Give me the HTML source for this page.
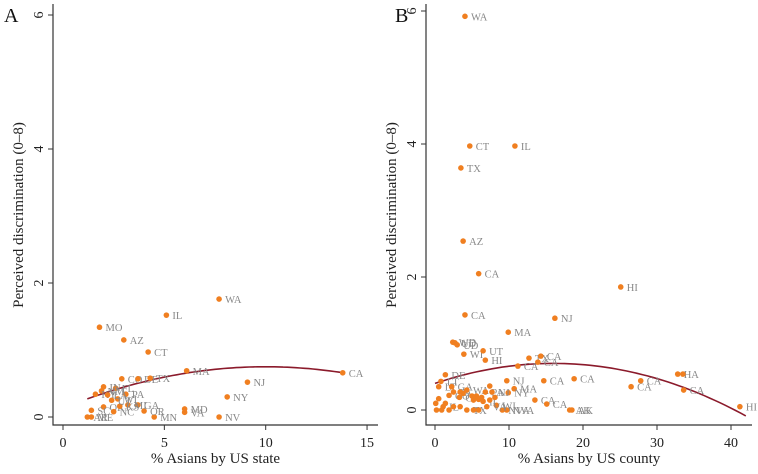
<!DOCTYPE html>
<html><head><meta charset="utf-8"><style>
body{margin:0;background:#fff;}
svg text{font-family:"Liberation Serif",serif;}
</style></head><body>
<svg id="chart" width="758" height="469" viewBox="0 0 758 469"></svg>
<script>
// Panel A data
const stateLabels=["WA","IL","MO","AZ","CT","MA","CA","NJ","NY","CO","DE","TX","PA","MD","VA","NV","MN","OR","GA","MI","OK","SC","NC","WI","AR","ME","FL","IN","NM","KY","LA","KS","UT"];
const stateX=[7.7,5.1,1.8,3.0,4.2,6.1,13.8,9.1,8.1,2.9,3.7,4.3,3.1,6.0,6.0,7.7,4.5,4.0,3.7,3.2,2.0,1.4,2.5,2.7,1.2,1.4,2.6,2.0,1.9,1.6,2.2,2.8,2.4];
const stateY=[1.76,1.52,1.34,1.15,0.97,0.69,0.66,0.52,0.30,0.57,0.57,0.58,0.34,0.12,0.07,0.0,0.0,0.09,0.18,0.18,0.15,0.10,0.08,0.27,0.0,0.0,0.43,0.45,0.39,0.34,0.33,0.16,0.25];
const fitA=[0.13,0.124,-0.0062]; const fitARange=[1.2,13.8];
// Panel B data
const countyLabels=["WA","CT","IL","TX","AZ","CA","HI","CA","NJ","MA","WD","UD","UD","WI","UT","HI","TX","CA","CA","CA","NJ","CA","CA","MA","NY","CA","CA","AK","AK","NVA","NVA","CA","CA","HA","CA","HI",
"DE","LT","LT","IL","","CO","GA","PA","","CA","","WA","","","","","","IL","PA","","NJ","","WI","","TX","","","","","","VA","","","","",""];
const countyX=[4.05,4.7,10.8,3.5,3.8,5.9,25.1,4.05,16.2,9.9,2.4,2.7,3.0,3.9,6.5,6.8,12.7,14.3,13.9,11.2,9.7,14.7,18.8,10.7,9.9,13.5,15.1,18.2,18.5,9.1,9.7,26.5,27.8,32.8,33.6,41.2,
1.4,0.8,0.5,1.1,1.4,1.9,2.25,2.5,3.4,3.3,3.8,4.3,5.0,5.2,5.6,5.9,6.3,6.5,6.8,7.4,7.7,8.1,8.3,3.4,4.3,5.2,5.9,2.5,1.9,7.4,7.0,0.1,0.2,0.5,0.9,33.5];
const countyY=[5.92,3.97,3.97,3.64,2.54,2.05,1.85,1.43,1.38,1.17,1.02,1.01,0.98,0.84,0.89,0.75,0.78,0.81,0.72,0.66,0.44,0.44,0.47,0.32,0.26,0.15,0.09,0.0,0.0,0.0,0.0,0.35,0.44,0.54,0.30,0.05,
0.53,0.43,0.35,0.05,0.10,0.22,0.35,0.27,0.27,0.19,0.25,0.30,0.21,0.15,0.21,0.16,0.19,0.13,0.27,0.36,0.27,0.19,0.07,0.05,0.0,0.0,0.0,0.05,0.0,0.15,0.05,0.10,0.0,0.17,0.0,0.54];
const fitB=[0.4,0.0375,-0.00117]; const fitBRange=[0,42];
const ticksAX=[0,5,10,15], ticksBX=[0,10,20,30,40], ticksY=[0,2,4,6];

const svg=document.getElementById('chart');
const NS='http://www.w3.org/2000/svg';
function mk(tag,attrs,parent){const e=document.createElementNS(NS,tag);for(const k in attrs)e.setAttribute(k,attrs[k]);(parent||svg).appendChild(e);return e;}

function panel(p){
  const g=mk('g',{});
  
  
  const sx=v=>p.x0+v*p.kx, sy=v=>p.y0-v*p.ky;
  const ax=mk('path',{d:`M${p.axX},4 V${p.axY} H${p.axEnd}`,stroke:'#333',fill:'none','stroke-width':1.2},g);
  
  
  p.xt.forEach(t=>{
    mk('line',{x1:sx(t),x2:sx(t),y1:p.axY,y2:p.axY+5,stroke:'#333'},g);
    const tx=mk('text',{x:sx(t),y:p.axY+22,'font-size':14,'text-anchor':'middle',fill:'#222','font-family':'Liberation Sans, sans-serif'},g);
    tx.textContent=t;
    
    
  });
  ticksY.forEach(t=>{
    mk('line',{x1:p.axX-5,x2:p.axX,y1:sy(t),y2:sy(t),stroke:'#333'},g);
    const tx=mk('text',{x:p.axX-10,y:sy(t),'font-size':14,'text-anchor':'middle',fill:'#222','font-family':'Liberation Sans, sans-serif',transform:`rotate(-90 ${p.axX-10} ${sy(t)})`},g);
    tx.textContent=t;
    
    
  });
  let d='';
  for(let i=0;i<=60;i++){const v=p.fr[0]+(p.fr[1]-p.fr[0])*i/60;const y=p.fit[0]+p.fit[1]*v+p.fit[2]*v*v;d+=(i?'L':'M')+sx(v).toFixed(1)+','+sy(y).toFixed(1);}
  const fl=mk('path',{d,stroke:'#8b1a2b',fill:'none','stroke-width':1.6},g);
  
  
  p.xs.forEach((v,i)=>{
    const c=mk('circle',{cx:sx(v),cy:sy(p.ys[i]),r:2.8,fill:'#f07f20'},g);
    
    
    if(p.labels[i]){
      const t=mk('text',{x:sx(v)+6,y:sy(p.ys[i])+4,'font-size':10.5,fill:'#888'},g);
      t.textContent=p.labels[i];
      
      
    }
  });
  const xt=mk('text',{x:(p.axX+p.axEnd)/2,y:463,'font-size':15,'text-anchor':'middle',fill:'#222'},g);
  xt.textContent=p.xtitle;
  
  
  const yx=p.axX-30, yy=215;
  const yt=mk('text',{x:yx,y:yy,'font-size':15,'text-anchor':'middle',fill:'#222',transform:`rotate(-90 ${yx} ${yy})`},g);
  yt.textContent='Perceived discrimination (0–8)';
  
  
  const pl=mk('text',{x:p.letterX,y:22,'font-size':20,fill:'#111','font-family':'Liberation Sans, sans-serif'},g);
  pl.textContent=p.letter;
  
  
}
panel({name:'panel-a',x0:63,kx:20.27,y0:417,ky:67,axX:53,axY:425,axEnd:378,xt:ticksAX,xs:stateX,ys:stateY,labels:stateLabels,fit:fitA,fr:fitARange,xtitle:'% Asians by US state',letter:'A',letterX:4});
panel({name:'panel-b',x0:435,kx:7.4,y0:410,ky:66.5,axX:426,axY:425,axEnd:752,xt:ticksBX,xs:countyX,ys:countyY,labels:countyLabels,fit:fitB,fr:fitBRange,xtitle:'% Asians by US county',letter:'B',letterX:395});
</script>
</body></html>
